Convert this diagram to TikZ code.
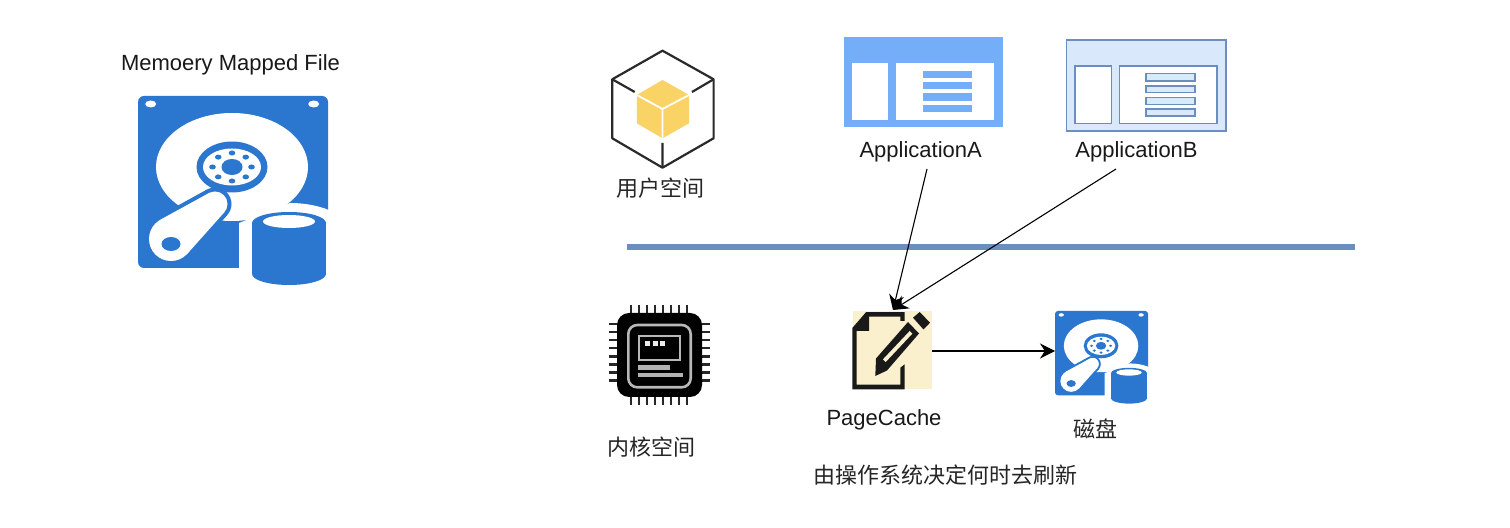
\documentclass[tikz,border=0pt]{standalone}
\usepackage{fontspec}
\setmainfont{Liberation Sans}
\newfontfamily\cjk{Noto Sans CJK SC}
\usetikzlibrary{arrows.meta}
\definecolor{diskblue}{HTML}{2B76CF}
\definecolor{appa}{HTML}{74AEF8}
\definecolor{appbfill}{HTML}{DAE8FC}
\definecolor{appbline}{HTML}{6C8EBF}
\definecolor{cubey}{HTML}{F9D366}
\definecolor{pagebg}{HTML}{FBF0CE}
\definecolor{hexline}{HTML}{2A2A2A}
\tikzset{
 lbl/.style={inner sep=0pt,font=\fontsize{11}{13}\selectfont,text=black!90},
 cjklbl/.style={inner sep=0pt,font=\cjk\fontsize{11}{13}\selectfont,text=black!85},
 conn/.style={draw=black,line width=0.55pt,-{Stealth[length=7.5pt,width=7.5pt]}},
 appbbox/.style={draw=appbline,line width=0.55pt,fill=white},
 appbbar/.style={draw=appbline,line width=0.55pt,fill=appbfill},
}
% #1 x, #2 y, #3 scale
\newcommand{\diskicon}[3]{%
\begin{scope}[shift={(#1,#2)},scale=#3]
 \fill[diskblue,rounded corners=#3*3pt] (0,0) rectangle (190,172);
 \fill[white] (12.7,8) ellipse [x radius=5.5,y radius=3.5];
 \fill[white] (175.7,8) ellipse [x radius=5.5,y radius=3.5];
 \fill[white] (94,71) ellipse [x radius=76,y radius=54];
 \fill[white] (101,173) -- (101,127) -- (152,107) .. controls (165,107) and (178,109) .. (191,114) -- (191,173) -- cycle;
 \fill[diskblue] (94,71) ellipse [x radius=35.5,y radius=25.5];
 \fill[white] (94,71) ellipse [x radius=29,y radius=18.5];
 \fill[diskblue] (94,71) ellipse [x radius=10.5,y radius=8];
 \foreach \a in {0,45,...,315}
  \fill[diskblue] ({94+19.5*cos(\a)},{71+14*sin(\a)}) ellipse [x radius=3.3,y radius=2.5];
 % arm
 \fill[diskblue] (33,143) circle [radius=26];
 \fill[diskblue] (77,108) circle [radius=16.5];
 \fill[diskblue] (52.4,160.3) -- (89.3,119) -- (69,93.5) -- (20.5,120.2) -- cycle;
 \fill[white] (33,143) circle [radius=22];
 \fill[white] (77,108) circle [radius=12.5];
 \fill[white] (49.4,157.7) -- (86.3,116.3) -- (71,97) -- (22.4,123.7) -- cycle;
 \fill[diskblue] (33,148) ellipse [x radius=9.5,y radius=7];
 % cylinder
 \fill[diskblue] (151,127) ellipse [x radius=37,y radius=11];
 \fill[diskblue] (151,178) ellipse [x radius=37,y radius=11];
 \fill[diskblue] (114,127) rectangle (188,178);
 \fill[white] (151,125.5) ellipse [x radius=26,y radius=6.5];
\end{scope}}
\begin{document}
\begin{tikzpicture}[x=0.5pt,y=-0.5pt]
\useasboundingbox (0,0) rectangle (1510,528);
\fill[white] (0,0) rectangle (1510,528);

% large disk
\node[lbl] (title) at (230.5,65) {Memoery Mapped File};
\diskicon{138}{96}{1}

% cube
\fill[cubey] (662.5,80) -- (689,95) -- (689,123.3) -- (662.5,138.3) -- (636.8,123.3) -- (636.8,95) -- cycle;
\draw[white,line width=0.9pt] (636.8,95) -- (662.5,109) -- (689,95) (662.5,109) -- (662.5,138.3);
\draw[hexline,line width=1.1pt,line join=round] (662.5,50.7) -- (713.6,79.3) -- (713.6,138.3) -- (662.5,167.7) -- (612.3,138.3) -- (612.3,79.3) -- cycle;
\draw[hexline,line width=1.1pt] (612.3,79.3) -- (634.7,92) (713.6,79.3) -- (692,92) (662.5,167.7) -- (662.5,143);
\node[cjklbl] (user) at (660,188) {用户空间};

% Application A
\fill[appa] (844.3,37.3) rectangle (1002.5,126.7);
\fill[white] (852,63.3) rectangle (888,120);
\fill[white] (896,63.3) rectangle (994,120);
\fill[appa] (922.8,70.7) rectangle (971.8,78.3);
\fill[appa] (922.8,82.3) rectangle (971.8,89.3);
\fill[appa] (922.8,93.3) rectangle (971.8,100.7);
\fill[appa] (922.8,104.7) rectangle (971.8,112.3);
\node[lbl] (appA) at (920.7,151.5) {ApplicationA};

% Application B
\draw[draw=appbline,line width=0.55pt,fill=appbfill] (1066.6,40) rectangle (1226,131);
\draw[appbbox] (1075,66) rectangle (1111.6,123.3);
\draw[appbbox] (1119.7,66) rectangle (1217,123.3);
\draw[appbbar] (1146,73.7) rectangle (1195,81);
\draw[appbbar] (1146,86) rectangle (1195,92.7);
\draw[appbbar] (1146,97.7) rectangle (1195,104.7);
\draw[appbbar] (1146,109) rectangle (1195,116);
\node[lbl] (appB) at (1136.5,151.5) {ApplicationB};

% divider
\draw[appbline,line width=3pt] (627,247) -- (1355,247);

% chip
\foreach \i in {0,...,7}{
 \draw[black!85,line width=1.2pt] ({630.7+8*\i},305) -- ({630.7+8*\i},320);
 \draw[black!85,line width=1.2pt] ({630.7+8*\i},390) -- ({630.7+8*\i},405);
 \draw[black!85,line width=1.2pt] (609,{324+8.1*\i}) -- (625,{324+8.1*\i});
 \draw[black!85,line width=1.2pt] (695,{324+8.1*\i}) -- (710,{324+8.1*\i});
}
\fill[black,rounded corners=6pt] (617,313) rectangle (702,397);
\draw[black!28,line width=1.3pt,rounded corners=4.5pt] (628.3,325) rectangle (690.7,387.3);
\draw[black!28,line width=1.1pt] (639.3,336) rectangle (680,360);
\fill[black!8] (645.2,341) rectangle (650.2,346);
\fill[black!8] (652.5,341) rectangle (657.5,346);
\fill[black!8] (660.2,341) rectangle (665.2,346);
\fill[black!30] (638.3,365.5) rectangle (670,370);
\fill[black!30] (638.3,373) rectangle (682.7,377.5);
\node[cjklbl] (kernel) at (651,447) {内核空间};

% page cache
\fill[pagebg] (852.7,310.7) rectangle (931.7,389.3);
\fill[black!90] (852.3,328) -- (866,312.2) -- (904.7,312.2) -- (904.7,321) -- (900.3,321) -- (900.3,316.7) -- (869,316.7) -- (869,331) -- (856.7,331) -- (856.7,384.7) -- (900.3,384.7) -- (900.3,367.7) -- (904.7,364.3) -- (904.7,389.3) -- (852.3,389.3) -- cycle;
\fill[black!90] (875.3,376) -- (876,358.5) -- (908,322) -- (919,333.5) -- (887,370.5) -- cycle;
\fill[black!90] (913,317.7) -- (919.7,312) -- (930,322.7) -- (923.5,329.5) -- cycle;
\fill[pagebg] (883,359.3) -- (909.7,331) -- (912.3,333.7) -- (885.7,362) -- cycle;
\coordinate (pageIn) at (893,310);
\coordinate (pageOut) at (932,351);
\coordinate (diskIn) at (1055,351);
\node[lbl] (pagecache) at (884,420) {PageCache};

% small disk
\diskicon{1055}{311}{0.49}
\node[cjklbl] (disk) at (1095,429) {磁盘};
\node[cjklbl] (note) at (945,475) {由操作系统决定何时去刷新};

% connectors
\coordinate (aOut) at (927,169);
\coordinate (bOut) at (1116,169);
\draw[conn] (aOut) -- (pageIn);
\draw[conn] (bOut) -- (pageIn);
\draw[conn] (pageOut) -- (diskIn);
\end{tikzpicture}
\end{document}
